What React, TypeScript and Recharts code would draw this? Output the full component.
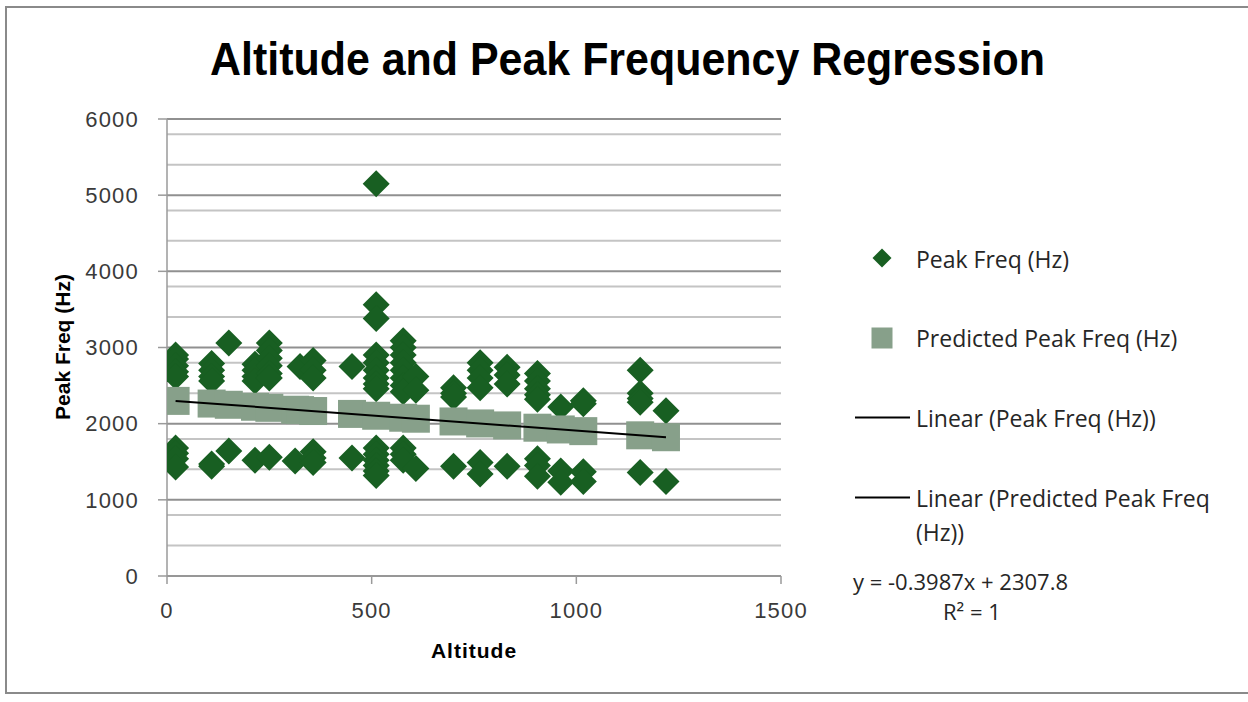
import React from "react";
import { ScatterChart, Scatter, XAxis, YAxis, CartesianGrid } from "recharts";

// Observed data: altitude (x) and peak frequency (Hz), paired by index
const peakAltitudes = [
  21, 21, 21, 21, 21, 21, 21, 21, 21,
  109, 109, 109, 109, 109, 109,
  151, 151,
  215, 215, 215, 215, 215,
  250, 250, 250, 250, 250, 250, 250,
  313, 325,
  357, 357, 357, 357, 357, 357,
  452, 452,
  511, 511, 511, 511, 511, 511, 511, 511, 511, 511, 511, 511, 511, 511, 511,
  577, 577, 577, 577, 577, 577, 577, 577, 577, 577, 577,
  608, 608, 608,
  700, 700, 700, 700,
  765, 765, 765, 765, 765, 765,
  831, 831, 831, 831,
  905, 905, 905, 905, 905, 905, 905, 905,
  962, 962, 962,
  1017, 1017, 1017, 1017,
  1156, 1156, 1156, 1156, 1156,
  1219, 1219,
];
const peakFreqs = [
  2900, 2850, 2760, 2680, 2620, 1680, 1610, 1540, 1430,
  2790, 2700, 2620, 2560, 1470, 1440,
  3060, 1640,
  2780, 2700, 2620, 2560, 1520,
  3060, 2960, 2860, 2760, 2660, 2600, 1560,
  1510, 2750,
  2830, 2700, 2600, 1630, 1550, 1490,
  2750, 1550,
  5150, 3560, 3380, 2900, 2800, 2700, 2600, 2520, 2460, 1680, 1600, 1520, 1450, 1380, 1320,
  3090, 3000, 2900, 2800, 2700, 2600, 2500, 2420, 1680, 1600, 1520,
  2620, 2440, 1410,
  2470, 2400, 2350, 1440,
  2800, 2700, 2600, 2470, 1490, 1340,
  2740, 2640, 2520, 1440,
  2660, 2560, 2460, 2380, 2320, 1540, 1450, 1310,
  2220, 1380, 1230,
  2300, 2260, 1370, 1240,
  2700, 2400, 2330, 2280, 1360,
  2170, 1240,
];

// Predicted values (they sit on the fitted line)
const predAltitudes = [21, 109, 151, 215, 250, 313, 325, 357, 452, 511, 577, 608, 700, 765, 831, 905, 962, 1017, 1156, 1219];
const predFreqs = [2299, 2264, 2248, 2222, 2208, 2183, 2178, 2166, 2128, 2104, 2078, 2065, 2029, 2003, 1977, 1947, 1924, 1902, 1847, 1822];

// Trend line end points
const trendAltitudes = [21, 1219];
const trendFreqs = [2299, 1822];

const yTicks = [0, 1000, 2000, 3000, 4000, 5000, 6000];
const yMinor = [200, 400, 600, 800, 1200, 1400, 1600, 1800, 2200, 2400, 2600, 2800, 3200, 3400, 3600, 3800, 4200, 4400, 4600, 4800, 5200, 5400, 5600, 5800];
const xTicks = [0, 500, 1000, 1500];

const title = "Altitude and Peak Frequency Regression";
const legendLabels = ["Peak Freq (Hz)", "Predicted Peak Freq (Hz)", "Linear (Peak Freq (Hz))", "Linear (Predicted Peak Freq", "(Hz))"];
const equationText = "y = -0.3987x + 2307.8";
const r2Text = "R² = 1";

const peakData = peakAltitudes.map((x, i) => ({ x, y: peakFreqs[i] }));
const predData = predAltitudes.map((x, i) => ({ x, y: predFreqs[i] }));
const trendData = trendAltitudes.map((x, i) => ({ x, y: trendFreqs[i] }));

const DARK = "#185f22";
const LIGHT = "#87a08a";

const Diamond = (props: any) => {
  const { cx, cy } = props;
  const r = 13.5;
  return <polygon points={`${cx},${cy - r} ${cx + r},${cy} ${cx},${cy + r} ${cx - r},${cy}`} fill={DARK} />;
};
const Square = (props: any) => {
  const { cx, cy } = props;
  const r = 14;
  return <rect x={cx - r} y={cy - r} width={2 * r} height={2 * r} fill={LIGHT} />;
};
const NoDot = () => <g />;

const tickFont = { fontFamily: "'Liberation Sans', Arial, sans-serif", fontSize: 22, fill: "#3a3a3a", letterSpacing: 1.2 };
const legendFont: React.CSSProperties = { fontFamily: "'Open Sans', sans-serif", fontSize: 23, color: "#262626", position: "absolute", whiteSpace: "nowrap", lineHeight: 1, transform: "translateY(-50%)" };

export default function App() {
  return (
    <div style={{ position: "absolute", left: 0, top: 0, width: 1248, height: 702, background: "#fff", overflow: "hidden" }}>
      <div style={{ position: "absolute", left: 5, top: 6, width: 1300, height: 688, border: "2px solid #8a8a8a", boxSizing: "border-box" }} />
      <svg width={1248} height={702} style={{ position: "absolute", left: 0, top: 0 }}>
        <text x={210} y={75} textLength={835} lengthAdjust="spacingAndGlyphs" fontFamily="'Liberation Sans', Arial, sans-serif" fontWeight={700} fontSize={46} fill="#000">
          {title}
        </text>
      </svg>
      <ScatterChart width={1248} height={702} margin={{ top: 119, right: 467, bottom: 96, left: 0 }} style={{ position: "absolute", left: 0, top: 0 }}>
        <CartesianGrid horizontal vertical={false} horizontalValues={yMinor} stroke="#c4c4c4" strokeWidth={2} />
        <CartesianGrid horizontal vertical={false} horizontalValues={yTicks} stroke="#909090" strokeWidth={2} />
        <XAxis type="number" dataKey="x" domain={[0, 1500]} ticks={xTicks} height={30} tick={tickFont} tickSize={8} tickMargin={18} stroke="#9a9a9a" strokeWidth={1.5} allowDataOverflow />
        <YAxis type="number" dataKey="y" domain={[0, 6000]} ticks={yTicks} width={167} tick={tickFont} tickSize={9} tickMargin={19} stroke="#9a9a9a" strokeWidth={1.5} allowDataOverflow />
        <Scatter name="Peak Freq (Hz)" data={peakData} shape={Diamond} isAnimationActive={false} />
        <Scatter name="Predicted Peak Freq (Hz)" data={predData} shape={Square} isAnimationActive={false} />
        <Scatter name="Linear (Peak Freq (Hz))" data={trendData} shape={NoDot} line={{ stroke: "#000", strokeWidth: 2 }} isAnimationActive={false} />
      </ScatterChart>
      <div style={{ position: "absolute", left: 62, top: 347, transform: "translate(-50%,-50%) rotate(-90deg)", fontFamily: "'Liberation Sans', Arial, sans-serif", fontWeight: 700, fontSize: 21, whiteSpace: "nowrap", lineHeight: 1, color: "#000" }}>
        Peak Freq (Hz)
      </div>
      <div style={{ position: "absolute", left: 474, top: 650, transform: "translate(-50%,-50%)", fontFamily: "'Liberation Sans', Arial, sans-serif", fontWeight: 700, fontSize: 21, letterSpacing: 1, whiteSpace: "nowrap", lineHeight: 1, color: "#000" }}>
        Altitude
      </div>
      <svg width={1248} height={702} style={{ position: "absolute", left: 0, top: 0, pointerEvents: "none" }}>
        <polygon points="882,248.5 891.5,258 882,267.5 872.5,258" fill={DARK} />
        <rect x={871.5} y={327.5} width={21} height={21} fill={LIGHT} />
        <line x1={855} y1={417.5} x2={910} y2={417.5} stroke="#000" strokeWidth={2} />
        <line x1={855} y1={497.5} x2={910} y2={497.5} stroke="#000" strokeWidth={2} />
      </svg>
      <div style={{ ...legendFont, left: 916, top: 259 }}>{legendLabels[0]}</div>
      <div style={{ ...legendFont, left: 916, top: 338 }}>{legendLabels[1]}</div>
      <div style={{ ...legendFont, left: 916, top: 418 }}>{legendLabels[2]}</div>
      <div style={{ ...legendFont, left: 916, top: 498 }}>{legendLabels[3]}</div>
      <div style={{ ...legendFont, left: 916, top: 532 }}>{legendLabels[4]}</div>
      <div style={{ ...legendFont, fontSize: 22, left: 853, top: 581 }}>{equationText}</div>
      <div style={{ ...legendFont, fontSize: 22, left: 943, top: 611 }}>{r2Text}</div>
    </div>
  );
}
